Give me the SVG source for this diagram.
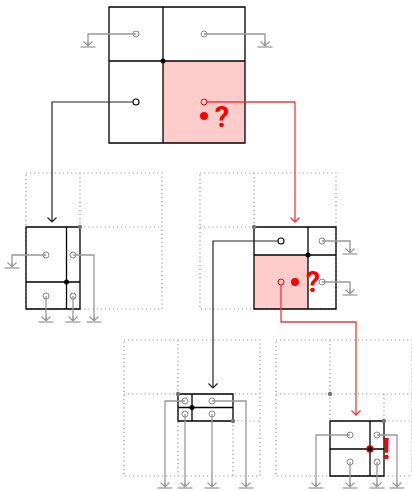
<svg xmlns="http://www.w3.org/2000/svg" width="412" height="491" viewBox="0 0 412 491">
<style>
.b{fill:none;stroke:#000;stroke-width:1.3}
.dot{fill:none;stroke:#999;stroke-width:1.2;stroke-dasharray:1.2 2.900}
.g{fill:none;stroke:#999;stroke-width:1.300}
.k{fill:none;stroke:#222;stroke-width:1.200}
.r{fill:none;stroke:#f33;stroke-width:1.300}
.cg{fill:none;stroke:#888;stroke-width:1}
.ck{fill:none;stroke:#000;stroke-width:1.100}
.cr{fill:none;stroke:#f00;stroke-width:1}
.pink{fill:#fcc;stroke:none}
.t{font-family:Roboto,"Liberation Sans",sans-serif;font-weight:700;fill:#f00}
.gd{fill:#777}
</style>
<defs>
<g id="gnd"><path d="M-4.500-4.500 0 0 4.500-4.500M0-4.500V0" fill="none" stroke="#999" stroke-width="1.200"/><path d="M-7.500 1H7.500" stroke="#aaa" stroke-width="1.500"/></g>
</defs>
<g id="grid-left"><path class="dot" d="M26 173H162V309H26ZM80 173V227M80 227H162"/></g>
<g id="grid-right"><path class="dot" d="M200 173H336V309H200ZM254 173V227M200 227H254"/></g>
<g id="grid-bl"><path class="dot" d="M124 340H260V476H124ZM178 340V476M124 394H260M233 421V476M233 421H260"/></g>
<g id="grid-br"><path class="dot" d="M276 340H412V476H276ZM330 340V421M276 394H412M384 394V421M384 421H412"/></g>
<g id="node-top">
<rect class="pink" x="163" y="61" width="82" height="82"/>
<path class="b" d="M109 7H245V143H109ZM163 7V143M109 61H245"/>
<circle cx="163" cy="61" r="2.500"/>
<circle class="cg" cx="136" cy="34" r="3"/><circle class="cg" cx="204" cy="34" r="3"/><circle class="ck" cx="136" cy="102" r="3"/><circle class="cr" cx="204" cy="102" r="3"/>
<circle cx="204" cy="116" r="4" fill="#f00"/><text class="t" x="222" y="126.500" font-size="29" text-anchor="middle">?</text>
</g>
<g id="node-left">
<path class="b" d="M26 227H80V309H26ZM66.500 227V309M26 282H80"/>
<circle cx="66.500" cy="282" r="2.500"/><circle class="gd" cx="80" cy="227" r="2.200"/>
<circle class="cg" cx="46" cy="255" r="3"/><circle class="cg" cx="73" cy="255" r="3"/><circle class="cg" cx="46" cy="296" r="3"/><circle class="cg" cx="73" cy="296" r="3"/>
</g>
<g id="node-right">
<rect class="pink" x="254" y="255" width="54" height="54"/>
<path class="b" d="M254 227H336V309H254ZM308 227V309M254 255H336"/>
<circle cx="308" cy="255" r="2.500"/><circle class="gd" cx="254" cy="227" r="2.200"/>
<circle class="ck" cx="281" cy="241" r="3"/><circle class="cg" cx="322" cy="241" r="3"/><circle class="cr" cx="281" cy="282" r="3"/><circle class="cg" cx="322" cy="282" r="3"/>
<circle cx="295" cy="282" r="4" fill="#f00"/><text class="t" x="313" y="291.500" font-size="29" text-anchor="middle">?</text>
</g>
<g id="node-bl">
<path class="b" d="M178 394H233V421H178ZM192 394V421M178 407.500H233"/>
<circle cx="192" cy="407.500" r="2.500"/><circle class="gd" cx="178" cy="394" r="2.200"/><circle class="gd" cx="233" cy="421" r="2.200"/>
<circle class="cg" cx="185" cy="401" r="3"/><circle class="cg" cx="212" cy="401" r="3"/><circle class="cg" cx="185" cy="414" r="3"/><circle class="cg" cx="212" cy="414" r="3"/>
</g>
<g id="node-br">
<path class="b" d="M330 421H384V476H330ZM370 421V476M330 449H384"/>
<circle cx="370" cy="449" r="3.800" fill="#f00"/><circle cx="370" cy="449" r="2.500"/><circle class="gd" cx="330" cy="394" r="2.200"/><circle class="gd" cx="384" cy="421" r="2.200"/>
<circle class="cg" cx="350" cy="435" r="3"/><circle class="cg" cx="377" cy="435" r="3"/><circle class="cg" cx="350" cy="462" r="3"/><circle class="cg" cx="377" cy="462" r="3"/>
<text class="t" x="386.500" y="459" font-size="29" text-anchor="middle">!</text>
</g>
<g id="connectors">
<path class="g" d="M136 34H88V46M204 34H265V46"/>
<use href="#gnd" x="88" y="46"/><use href="#gnd" x="265" y="46"/>
<path class="g" d="M46 255H12V267M73 255H94V321M46 296V321M73 296V321"/>
<use href="#gnd" x="12" y="267"/><use href="#gnd" x="46" y="321"/><use href="#gnd" x="73" y="321"/><use href="#gnd" x="94" y="321"/>
<path class="g" d="M322 241H350V253M322 282H350V294"/>
<use href="#gnd" x="350" y="253"/><use href="#gnd" x="350" y="294"/>
<path class="g" d="M185 401H165V487M185 414V487M212 414V487M212 401H246V487"/>
<use href="#gnd" x="165" y="487"/><use href="#gnd" x="185" y="487"/><use href="#gnd" x="212" y="487"/><use href="#gnd" x="246" y="487"/>
<path class="g" d="M350 435H316V487M350 462V487M377 462V487M377 435H397V487"/>
<use href="#gnd" x="316" y="487"/><use href="#gnd" x="350" y="487"/><use href="#gnd" x="377" y="487"/><use href="#gnd" x="397" y="487"/>
<path class="k" d="M133 102H52V222M47.500 217.500 52 222 56.500 217.500"/>
<path class="k" d="M278 241H213V388M208.500 383.500 213 388 217.500 383.500"/>
<path class="r" d="M207 102H295V222M290.500 217.500 295 222 299.500 217.500"/>
<path class="r" d="M281 285V322H356V415M351.500 410.500 356 415 360.500 410.500"/>
</g>
</svg>
